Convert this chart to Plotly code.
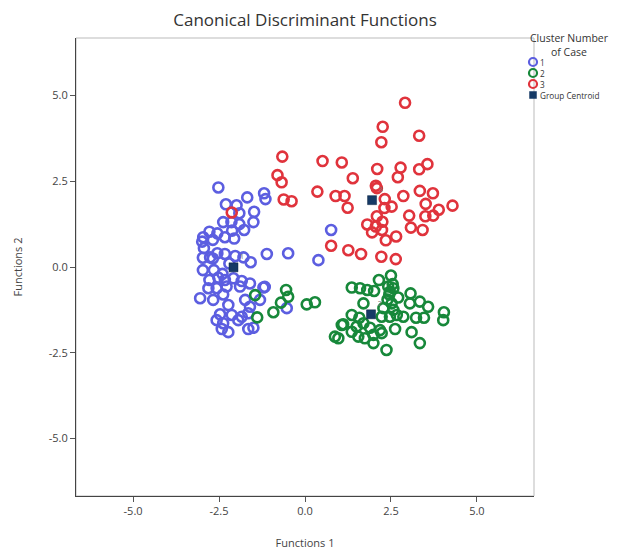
import plotly.graph_objects as go

# Cluster 1 (blue)
c1_x = [-2.52, -1.68, -1.19, -1.15, -2.30, -1.99, -1.91, -1.48, -2.38, -2.14, -1.91, -1.50,
        -2.12, -1.77, -2.78, -2.55, -2.33, -2.96, -2.99, -2.68, -2.06, -2.94, -2.55, -2.33,
        -2.03, -1.79, -1.11, -0.49, -2.76, -2.97, -2.68, -1.58, -2.97, -2.65, -2.78, -2.52,
        -2.33, -2.08, -1.84, -1.60, -1.17, -2.81, -2.57, -2.28, -1.89, -3.05, -2.67, -2.38,
        -1.74, -1.31, -2.23, -1.60, -0.53, -2.47, -2.13, -1.84, -1.65, -2.57, -2.38, -1.94,
        -1.65, -1.50, -2.23, -2.42, 0.76, 0.39, -1.21, -2.40, -2.20]
c1_y = [2.32, 2.03, 2.15, 1.98, 1.83, 1.80, 1.57, 1.61, 1.31, 1.31, 1.25, 1.31,
        1.06, 1.08, 1.03, 0.98, 0.87, 0.87, 0.74, 0.79, 0.83, 0.55, 0.40, 0.38,
        0.32, 0.28, 0.38, 0.40, 0.28, 0.27, 0.25, 0.14, -0.09, -0.09, -0.38, -0.31,
        -0.38, -0.33, -0.41, -0.48, -0.58, -0.62, -0.62, -0.57, -0.57, -0.91, -0.96, -0.80,
        -0.96, -0.96, -1.11, -1.16, -1.20, -1.38, -1.40, -1.45, -1.35, -1.55, -1.64, -1.55,
        -1.81, -1.77, -1.90, -1.81, 1.08, 0.20, -0.60, -0.20, 0.10]

# Cluster 2 (green)
c2_x = [-1.45, -1.39, -0.92, -0.70, -0.55, -0.49, 0.05, 0.29, 0.87, 0.97, 1.07,
        2.15, 2.50, 1.36, 1.60, 1.81, 2.01, 2.42, 2.57, 2.47, 2.71, 3.07, 3.34, 3.05,
        3.58, 4.04, 4.02, 1.70, 2.52, 2.57, 2.47, 2.67, 2.86, 3.23, 3.46, 2.23, 1.36,
        1.58, 1.11, 1.50, 1.70, 1.89, 2.18, 2.62, 3.10, 1.36, 1.55, 1.74, 1.99, 2.23,
        1.99, 3.34, 2.37, 2.28, 2.45, 2.40, 2.55]
c2_y = [-0.82, -1.47, -1.32, -1.04, -0.67, -0.87, -1.09, -1.03, -2.03, -2.08, -1.69,
        -0.38, -0.25, -0.60, -0.62, -0.67, -0.70, -0.57, -0.62, -0.72, -0.89, -0.77, -1.01, -1.06,
        -1.16, -1.32, -1.55, -1.06, -1.06, -1.25, -1.45, -1.40, -1.45, -1.48, -1.48, -1.45, -1.40,
        -1.48, -1.67, -1.74, -1.64, -1.77, -1.84, -1.81, -1.90, -1.89, -2.03, -2.08, -1.98, -1.93,
        -2.22, -2.22, -2.42, -1.20, -0.80, -0.95, -0.50]

# Cluster 3 (red)
c3_x = [2.91, 2.26, 3.32, 2.22, -0.66, 0.51, 1.07, 2.10, 2.78, 3.32, 3.56, -0.80,
        1.39, 2.70, -0.68, 0.36, 0.89, 1.15, -0.62, -0.39, 2.06, 2.09, 2.32, 2.86,
        3.34, 3.72, 3.51, 4.29, 3.89, 3.73, 3.50, 3.03, 1.24, 2.31, 2.52, 2.09,
        1.81, 2.25, 2.06, 2.24, 1.95, 2.35, 2.65, 3.08, 3.42, 0.76, 1.26, 1.63,
        2.22, 2.64, -2.13]
c3_y = [4.79, 4.09, 3.83, 3.64, 3.22, 3.09, 3.05, 2.86, 2.90, 2.85, 3.00, 2.68,
        2.59, 2.62, 2.47, 2.20, 2.07, 2.07, 1.97, 1.92, 2.37, 2.30, 1.98, 2.07,
        2.22, 2.15, 1.84, 1.79, 1.67, 1.50, 1.48, 1.50, 1.73, 1.72, 1.76, 1.48,
        1.24, 1.32, 1.18, 1.08, 1.01, 0.78, 0.89, 1.15, 1.08, 0.62, 0.49, 0.38,
        0.30, 0.23, 1.59]

# Group centroids
cent_x = [-2.08, 1.92, 1.95]
cent_y = [-0.01, -1.38, 1.95]
cent_labels = ["1", "2", "3"]

x_ticks = [-5.0, -2.5, 0.0, 2.5, 5.0]
y_ticks = [-5.0, -2.5, 0.0, 2.5, 5.0]

legend_labels = ["1", "2", "3", "Group Centroid"]
legend_title = "Cluster Number<br>of Case"

BLUE = "#5c5ee0"
GREEN = "#17883a"
RED = "#e0333c"
NAVY = "#163a66"
FONT = "Open Sans"

fig = go.Figure()

def add_cluster(xs, ys, color, name):
    fig.add_trace(go.Scatter(
        x=xs, y=ys, mode="markers", name=name,
        marker=dict(symbol="circle-open", size=10, color=color,
                    line=dict(width=2.6, color=color)),
        hoverinfo="x+y"))

add_cluster(c1_x, c1_y, BLUE, legend_labels[0])
add_cluster(c2_x, c2_y, GREEN, legend_labels[1])
add_cluster(c3_x, c3_y, RED, legend_labels[2])

fig.add_trace(go.Scatter(
    x=cent_x, y=cent_y, mode="markers+text", name=legend_labels[3],
    text=cent_labels, textposition="top right",
    textfont=dict(size=7, color="#777777", family=FONT),
    marker=dict(symbol="square", size=9, color=NAVY,
                line=dict(width=0.5, color="#0d2442"))))

# plot frame
fig.add_shape(type="rect", xref="paper", yref="paper", x0=0, y0=0, x1=1, y1=1,
              line=dict(color="#bbbbbb", width=1), layer="below")

# compact custom legend (plot area spans 458 px each way; page body adds an 8 px offset)
PX = 1 / 458.0
lx = 1 + (533 - 534) * PX          # marker centre x in paper units
rows = [(496 - py) * PX for py in (62, 73, 84, 95)]
colors = [BLUE, GREEN, RED]
for i, c in enumerate(colors):
    fig.add_shape(type="circle", xref="paper", yref="paper",
                  x0=lx - 4 * PX, x1=lx + 4 * PX, y0=rows[i] - 4 * PX, y1=rows[i] + 4 * PX,
                  line=dict(color=c, width=2.2), fillcolor="rgba(0,0,0,0)")
fig.add_shape(type="rect", xref="paper", yref="paper",
              x0=lx - 3.5 * PX, x1=lx + 3.5 * PX, y0=rows[3] - 3.5 * PX, y1=rows[3] + 3.5 * PX,
              line=dict(color=NAVY, width=0.5), fillcolor=NAVY)
for i, lab in enumerate(legend_labels):
    fig.add_annotation(xref="paper", yref="paper", x=lx + 6 * PX, y=rows[i],
                       text=lab, showarrow=False, xanchor="left", yanchor="middle",
                       borderpad=0,
                       font=dict(size=8.2, color="#333333", family=FONT))
fig.add_annotation(xref="paper", yref="paper", x=1 + (569 - 534) * PX, y=(496 - 45) * PX,
                   text=legend_title, showarrow=False, xanchor="center", yanchor="middle",
                   align="center", borderpad=0,
                   font=dict(size=10.5, color="#333333", family=FONT))

axis_common = dict(
    showgrid=False, zeroline=False, showline=True, linecolor="#444444", linewidth=1.2,
    ticks="outside", ticklen=5, tickcolor="#555555", automargin=False,
    tickfont=dict(size=11, color="#444444", family=FONT),
)

fig.update_layout(
    width=610, height=547,
    paper_bgcolor="white", plot_bgcolor="white",
    margin=dict(l=68, r=84, t=30, b=59),
    title=dict(text="Canonical Discriminant Functions", x=0.487, xanchor="center",
               y=0.978, yanchor="middle",
               font=dict(size=17, color="#333333", family=FONT)),
    xaxis=dict(range=[-6.66, 6.66], tickvals=x_ticks, ticktext=[f"{v:.1f}" for v in x_ticks],
               title=dict(text="Functions 1", standoff=22,
                          font=dict(size=11, color="#444444", family=FONT)),
               **axis_common),
    yaxis=dict(range=[-6.68, 6.68], tickvals=y_ticks, ticktext=[f"{v:.1f}" for v in y_ticks],
               title=dict(text="Functions 2", standoff=23,
                          font=dict(size=11, color="#444444", family=FONT)),
               **axis_common),
    showlegend=False,
)

fig.write_html("out.html")
